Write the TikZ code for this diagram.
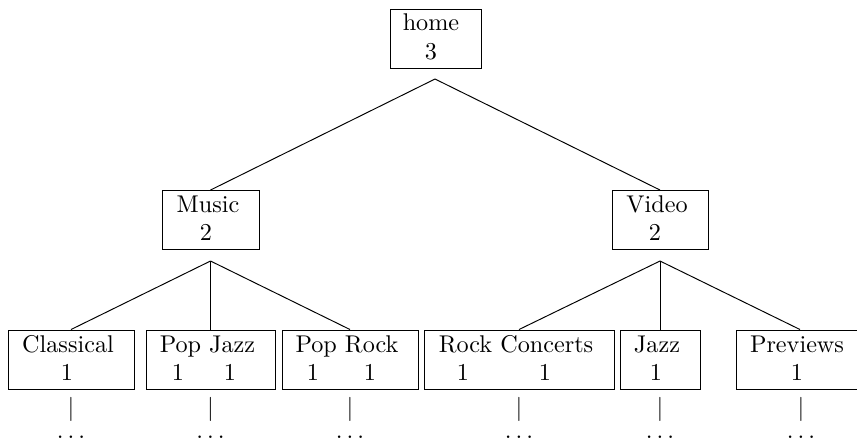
\documentclass[tikz,border=0pt]{standalone}
\begin{document}
\begin{tikzpicture}[x=0.4132pt,y=-0.4132pt,
  bx/.style 2 args={draw, inner sep=0pt, minimum width=#1*0.4132pt, minimum height=#2*0.4132pt},
  lbl/.style={anchor=base, inner sep=0pt},
  conn/.style={draw, line width=0.4pt}]
\useasboundingbox (0,0) rectangle (857,440);
% boxes
\node[bx={91}{59}]  (home)  at (435.5,38.5) {};
\node[bx={97}{59}]  (music) at (210.5,220) {};
\node[bx={96}{59}]  (video) at (660,220) {};
\node[bx={126}{59}] (cla)   at (71,359.5) {};
\node[bx={129}{59}] (pj)    at (210.5,359.5) {};
\node[bx={136}{59}] (pr)    at (350,359.5) {};
\node[bx={190}{59}] (rc)    at (519,359.5) {};
\node[bx={80}{59}]  (jz)    at (660,359.5) {};
\node[bx={128}{59}] (pv)    at (800,359.5) {};
% titles
\node[lbl] (home-t)  at (431,30) {home};
\node[lbl] (home-n)  at (431,59) {3};
\node[lbl] (music-t) at (208,212.5) {Music};
\node[lbl] (music-n) at (206,240.5) {2};
\node[lbl] (video-t) at (657,212.5) {Video};
\node[lbl] (video-n) at (655,240.5) {2};
\node[lbl] (cla-t)   at (68,352) {Classical};
\node[lbl] (cla-n)   at (67,380) {1};
\node[lbl] (pj-t)    at (207.5,352) {Pop Jazz};
\node[lbl] (pj-n1)   at (178,380) {1};
\node[lbl] (pj-n2)   at (230,380) {1};
\node[lbl] (pr-t)    at (347,352) {Pop Rock};
\node[lbl] (pr-n1)   at (313,380) {1};
\node[lbl] (pr-n2)   at (370,380) {1};
\node[lbl] (rc-t)    at (516,352) {Rock Concerts};
\node[lbl] (rc-n1)   at (463,380) {1};
\node[lbl] (rc-n2)   at (545,380) {1};
\node[lbl] (jz-t)    at (657,352) {Jazz};
\node[lbl] (jz-n)    at (656,380) {1};
\node[lbl] (pv-t)    at (797,352) {Previews};
\node[lbl] (pv-n)    at (797,380) {1};
% bars and dots
\foreach \n/\x in {cla/71, pj/210.5, pr/350, rc/519, jz/660, pv/801}{
  \node[lbl] (\n-bar)  at (\x,415) {$|$};
  \node[lbl] (\n-dots) at (\x,438) {$\ldots$};
}
% apex coordinates
\coordinate (home-a)  at (435,79);
\coordinate (music-a) at (210.5,261);
\coordinate (video-a) at (660,261);
% connectors
\draw[conn] (home-a) -- (music.north);
\draw[conn] (home-a) -- (video.north);
\draw[conn] (music-a) -- (cla.north);
\draw[conn] (music-a) -- (pj.north);
\draw[conn] (music-a) -- (pr.north);
\draw[conn] (video-a) -- (rc.north);
\draw[conn] (video-a) -- (jz.north);
\draw[conn] (video-a) -- (pv.north);
\end{tikzpicture}
\end{document}
